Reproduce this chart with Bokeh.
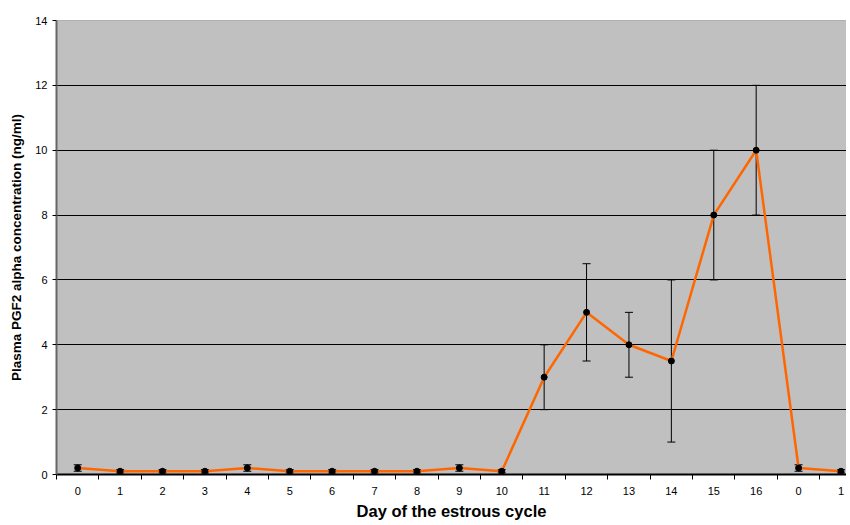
from bokeh.plotting import figure
from bokeh.models import (ColumnDataSource, Range1d, FixedTicker, Whisker, TeeHead, Span)
from bokeh.embed import file_html
from bokeh.resources import INLINE

day_labels = ["0", "1", "2", "3", "4", "5", "6", "7", "8", "9", "10",
              "11", "12", "13", "14", "15", "16", "0", "1"]
pgf_mean = [0.2, 0.1, 0.1, 0.1, 0.2, 0.1, 0.1, 0.1, 0.1, 0.2, 0.1,
            3.0, 5.0, 4.0, 3.5, 8.0, 10.0, 0.2, 0.1]
pgf_err = [0.1, 0.05, 0.05, 0.05, 0.1, 0.05, 0.05, 0.05, 0.05, 0.1, 0.05,
           1.0, 1.5, 1.0, 2.5, 2.0, 2.0, 0.1, 0.05]
y_ticks = [0, 2, 4, 6, 8, 10, 12, 14]
x_title = "Day of the estrous cycle"
y_title = "Plasma PGF2 alpha concentration (ng/ml)"

pos = list(range(len(day_labels)))
src = ColumnDataSource(dict(
    x=pos, y=pgf_mean,
    lo=[m - e for m, e in zip(pgf_mean, pgf_err)],
    hi=[m + e for m, e in zip(pgf_mean, pgf_err)],
))

FONT = "Liberation Sans"

p = figure(width=846, height=525, output_backend="svg", toolbar_location=None,
           x_range=Range1d(-0.5, 18.13), y_range=Range1d(0, 14),
           min_border_left=56, min_border_right=0, min_border_top=20, min_border_bottom=51)
p.background_fill_color = "#C0C0C0"
p.border_fill_color = "white"
p.outline_line_color = None

# gridlines
p.xgrid.grid_line_color = None
p.ygrid.ticker = FixedTicker(ticks=[2, 4, 6, 8, 10, 12])
p.ygrid.grid_line_color = "black"
p.ygrid.grid_line_width = 1
p.add_layout(Span(location=14, dimension="width", line_color="#808080", line_width=1))

# x axis
xa = p.xaxis[0]
xa.ticker = FixedTicker(ticks=pos, minor_ticks=[i - 0.5 for i in range(len(day_labels))])
xa.major_label_overrides = {i: lab for i, lab in enumerate(day_labels)}
xa.major_tick_line_color = None
xa.major_tick_out = 0
xa.major_tick_in = 0
xa.minor_tick_line_color = "black"
xa.minor_tick_out = 5
xa.minor_tick_in = 0
xa.axis_line_color = "black"
xa.axis_line_width = 2
xa.major_label_standoff = 7
xa.major_label_text_font = FONT
xa.major_label_text_font_size = "11px"
xa.major_label_text_color = "black"
xa.axis_label = x_title
xa.axis_label_text_font = FONT
xa.axis_label_text_font_style = "bold"
xa.axis_label_text_font_size = "16.5px"
xa.axis_label_text_color = "black"
xa.axis_label_standoff = 4

# y axis
ya = p.yaxis[0]
ya.ticker = FixedTicker(ticks=y_ticks, minor_ticks=[])
ya.major_tick_line_color = "black"
ya.major_tick_out = 4
ya.major_tick_in = 0
ya.axis_line_color = "#666666"
ya.axis_line_width = 2
ya.major_label_standoff = 5
ya.major_label_text_font = FONT
ya.major_label_text_font_size = "11px"
ya.major_label_text_color = "black"
ya.axis_label = y_title
ya.axis_label_text_font = FONT
ya.axis_label_text_font_style = "bold"
ya.axis_label_text_font_size = "13.5px"
ya.axis_label_text_color = "black"
ya.axis_label_standoff = 8

# error bars
p.add_layout(Whisker(source=src, base="x", lower="lo", upper="hi", dimension="height",
                     line_color="black", line_width=1,
                     lower_head=TeeHead(size=8, line_color="black", line_width=1),
                     upper_head=TeeHead(size=8, line_color="black", line_width=1)))

p.line("x", "y", source=src, line_color="#FF6600", line_width=2.5)
p.scatter("x", "y", source=src, size=6, fill_color="black", line_color="black")

open("out.html", "w").write(file_html(p, INLINE))
